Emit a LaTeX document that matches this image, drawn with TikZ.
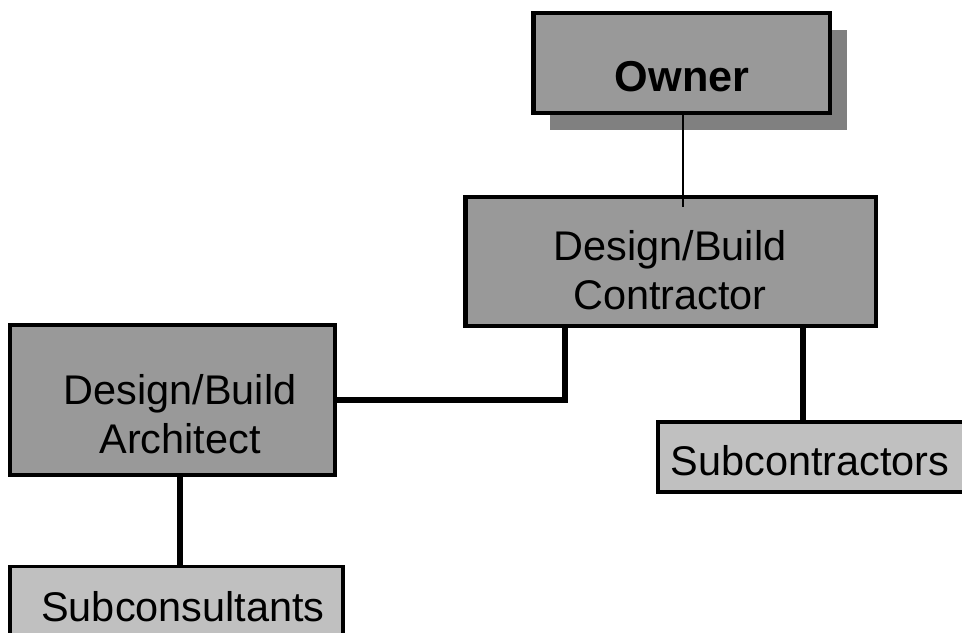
\documentclass[tikz,border=0pt]{standalone}
\usepackage{fontspec}
\setmainfont{Liberation Sans}
\usetikzlibrary{shadows}
\definecolor{boxgray}{HTML}{999999}
\definecolor{subgray}{HTML}{C0C0C0}
\definecolor{shadowgray}{HTML}{808080}

\begin{document}
\begin{tikzpicture}[x=0.02cm, y=-0.02cm,
	orgbox/.style={draw=black, line width=2.8pt, fill=boxgray, inner sep=0pt},
	subbox/.style={draw=black, line width=1.8pt, fill=subgray, inner sep=0pt},
	boxtext/.style={align=center, inner sep=0pt, font=\fontsize{23.6}{28.2}\selectfont},
	conn/.style={line width=3.2pt}]
	
	% Parameters
	\def\picw{962}
	\def\pich{632}
	\useasboundingbox (0,0) rectangle (\picw,\pich);
	\clip (0,0) rectangle (\picw,\pich);
	
	% owner with shadow
	\node[orgbox, minimum width=5.94cm, minimum height=2.0cm,
		drop shadow={shadow xshift=0.34cm, shadow yshift=-0.34cm, fill=shadowgray, opacity=1}]
		(owner) at (681.5,63) {};
	\node[boxtext, font=\fontsize{24.6}{29}\selectfont\bfseries] (ownertext) at (682,77) {Owner};
	
	% main boxes
	\node[orgbox, minimum width=8.22cm, minimum height=2.58cm] (contr) at (670.5,261.5) {};
	\node[boxtext] (contrtext) at (670,270) {Design/Build\\Contractor};
	\node[orgbox, minimum width=6.5cm, minimum height=3.0cm] (arch) at (172.5,400) {};
	\node[boxtext] (archtext) at (180,414) {Design/Build\\Architect};
	
	% sub boxes
	\node[subbox, minimum width=6.12cm, minimum height=1.4cm] (subcontr) at (811,457) {};
	\node[boxtext] (subcontrtext) at (810,461) {Subcontractors};
	\node[subbox, minimum width=6.66cm, minimum height=1.5cm] (subcons) at (176.5,604) {};
	\node[boxtext] (subconstext) at (183,607) {Subconsultants};
	
	% connectors
	\draw[line width=0.85pt] ([xshift=0.03cm]owner.south) -- ([xshift=0.03cm]owner.south |- 0,207);
	\draw[conn] (arch.east) -| ([xshift=-2.11cm]contr.south);
	\draw[conn] ([xshift=2.65cm]contr.south) -- ([xshift=2.65cm]contr.south |- subcontr.north);
	\draw[conn] (arch.south -| 180,0) -- (subcons.north -| 180,0);
	
\end{tikzpicture}
\end{document}
